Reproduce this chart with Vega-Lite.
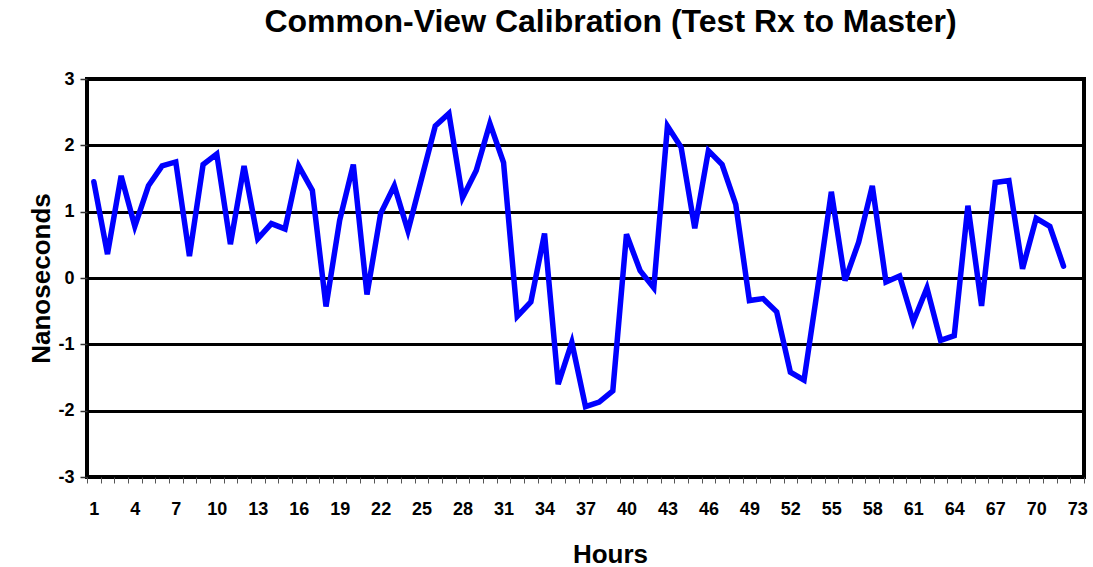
{
  "$schema": "https://vega.github.io/schema/vega-lite/v6.json",
  "width": 997,
  "height": 398,
  "autosize": "none",
  "padding": {"left": 87, "top": 79, "right": 9, "bottom": 90},
  "background": "white",
  "config": {
    "font": "Liberation Sans",
    "view": {"stroke": "black", "strokeWidth": 4}
  },
  "title": {
    "text": "Common-View Calibration (Test Rx to Master)",
    "font": "Liberation Sans",
    "fontSize": 32,
    "fontWeight": "bold",
    "color": "black",
    "anchor": "middle",
    "frame": "group",
    "dx": 25,
    "offset": 31
  },
  "data": {
    "values": [
      {"hour": 1, "ns": 1.45}, {"hour": 2, "ns": 0.36}, {"hour": 3, "ns": 1.54}, {"hour": 4, "ns": 0.78},
      {"hour": 5, "ns": 1.39}, {"hour": 6, "ns": 1.69}, {"hour": 7, "ns": 1.75}, {"hour": 8, "ns": 0.33},
      {"hour": 9, "ns": 1.71}, {"hour": 10, "ns": 1.87}, {"hour": 11, "ns": 0.51}, {"hour": 12, "ns": 1.69},
      {"hour": 13, "ns": 0.59}, {"hour": 14, "ns": 0.82}, {"hour": 15, "ns": 0.74}, {"hour": 16, "ns": 1.69},
      {"hour": 17, "ns": 1.32}, {"hour": 18, "ns": -0.43}, {"hour": 19, "ns": 0.87}, {"hour": 20, "ns": 1.71},
      {"hour": 21, "ns": -0.25}, {"hour": 22, "ns": 0.97}, {"hour": 23, "ns": 1.39}, {"hour": 24, "ns": 0.71},
      {"hour": 25, "ns": 1.5}, {"hour": 26, "ns": 2.29}, {"hour": 27, "ns": 2.48}, {"hour": 28, "ns": 1.21},
      {"hour": 29, "ns": 1.62}, {"hour": 30, "ns": 2.33}, {"hour": 31, "ns": 1.74}, {"hour": 32, "ns": -0.58},
      {"hour": 33, "ns": -0.36}, {"hour": 34, "ns": 0.67}, {"hour": 35, "ns": -1.6}, {"hour": 36, "ns": -0.97},
      {"hour": 37, "ns": -1.94}, {"hour": 38, "ns": -1.87}, {"hour": 39, "ns": -1.7}, {"hour": 40, "ns": 0.66},
      {"hour": 41, "ns": 0.11}, {"hour": 42, "ns": -0.15}, {"hour": 43, "ns": 2.29}, {"hour": 44, "ns": 1.97},
      {"hour": 45, "ns": 0.75}, {"hour": 46, "ns": 1.92}, {"hour": 47, "ns": 1.71}, {"hour": 48, "ns": 1.11},
      {"hour": 49, "ns": -0.34}, {"hour": 50, "ns": -0.31}, {"hour": 51, "ns": -0.51}, {"hour": 52, "ns": -1.42},
      {"hour": 53, "ns": -1.54}, {"hour": 54, "ns": -0.15}, {"hour": 55, "ns": 1.3}, {"hour": 56, "ns": -0.04},
      {"hour": 57, "ns": 0.54}, {"hour": 58, "ns": 1.39}, {"hour": 59, "ns": -0.06}, {"hour": 60, "ns": 0.03},
      {"hour": 61, "ns": -0.66}, {"hour": 62, "ns": -0.15}, {"hour": 63, "ns": -0.94}, {"hour": 64, "ns": -0.87},
      {"hour": 65, "ns": 1.09}, {"hour": 66, "ns": -0.42}, {"hour": 67, "ns": 1.44}, {"hour": 68, "ns": 1.47},
      {"hour": 69, "ns": 0.14}, {"hour": 70, "ns": 0.9}, {"hour": 71, "ns": 0.78}, {"hour": 72, "ns": 0.18}
    ]
  },
  "mark": {"type": "line", "color": "#0000FF", "strokeWidth": 5.5, "strokeJoin": "miter", "strokeCap": "round"},
  "encoding": {
    "x": {
      "field": "hour",
      "type": "quantitative",
      "scale": {"domain": [0.5, 73.5], "nice": false, "zero": false},
      "axis": {
        "title": "Hours",
        "titleFont": "Liberation Sans",
        "titleFontSize": 26,
        "titleFontWeight": "bold",
        "titleColor": "black",
        "titleX": 523,
        "titleY": 77,
        "titleAlign": "center",
        "titleBaseline": "middle",
        "values": [0.5, 1, 1.5, 2.5, 3.5, 4, 4.5, 5.5, 6.5, 7, 7.5, 8.5, 9.5, 10, 10.5, 11.5, 12.5, 13, 13.5, 14.5, 15.5, 16, 16.5, 17.5, 18.5, 19, 19.5, 20.5, 21.5, 22, 22.5, 23.5, 24.5, 25, 25.5, 26.5, 27.5, 28, 28.5, 29.5, 30.5, 31, 31.5, 32.5, 33.5, 34, 34.5, 35.5, 36.5, 37, 37.5, 38.5, 39.5, 40, 40.5, 41.5, 42.5, 43, 43.5, 44.5, 45.5, 46, 46.5, 47.5, 48.5, 49, 49.5, 50.5, 51.5, 52, 52.5, 53.5, 54.5, 55, 55.5, 56.5, 57.5, 58, 58.5, 59.5, 60.5, 61, 61.5, 62.5, 63.5, 64, 64.5, 65.5, 66.5, 67, 67.5, 68.5, 69.5, 70, 70.5, 71.5, 72.5, 73, 73.5],
        "labelExpr": "datum.value % 1 == 0 ? format(datum.value, 'd') : ''",
        "labelOverlap": false,
        "labelBound": false,
        "labelFlush": false,
        "labelFont": "Liberation Sans",
        "labelFontSize": 18,
        "labelFontWeight": "bold",
        "labelColor": "black",
        "labelPadding": 17,
        "ticks": true,
        "tickSize": 6,
        "tickWidth": 1,
        "tickColor": "#555555",
        "tickOpacity": {"condition": {"test": "datum.value % 1 != 0", "value": 1}, "value": 0},
        "domain": false,
        "grid": false
      }
    },
    "y": {
      "field": "ns",
      "type": "quantitative",
      "scale": {"domain": [-3, 3], "nice": false, "zero": false},
      "axis": {
        "title": "Nanoseconds",
        "titleFont": "Liberation Sans",
        "titleFontSize": 26,
        "titleFontWeight": "bold",
        "titleColor": "black",
        "titleAngle": -90,
        "titleX": -46,
        "titleY": 199,
        "titleAlign": "center",
        "titleBaseline": "middle",
        "values": [-3, -2, -1, 0, 1, 2, 3],
        "labelExpr": "toString(datum.value)",
        "labelFont": "Liberation Sans",
        "labelFontSize": 18,
        "labelFontWeight": "bold",
        "labelColor": "black",
        "labelPadding": 6,
        "ticks": true,
        "tickSize": 7,
        "tickWidth": 1.5,
        "tickColor": "#333333",
        "domain": false,
        "grid": true,
        "gridColor": "black",
        "gridWidth": 3,
        "gridOpacity": 1
      }
    }
  }
}
